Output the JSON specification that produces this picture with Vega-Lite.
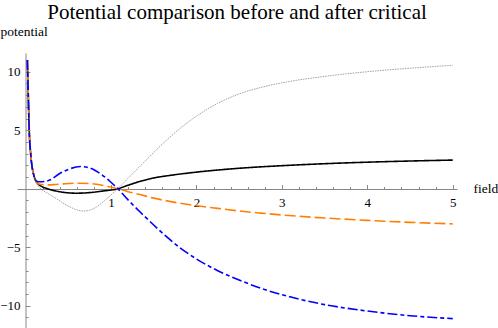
{
  "$schema": "https://vega.github.io/schema/vega-lite/v6.json",
  "width": 440,
  "height": 275,
  "autosize": "none",
  "padding": {"left": 17, "top": 53, "right": 41, "bottom": 0},
  "background": "white",
  "config": {"view": {"stroke": null}, "font": "Liberation Serif"},
  "title": {
    "text": "Potential comparison before and after critical",
    "font": "Liberation Serif",
    "fontSize": 21,
    "fontWeight": "normal",
    "color": "black",
    "anchor": "middle",
    "frame": "group",
    "offset": 1
  },
  "data": {
    "values": [
      {"s": "a", "x": 0.021, "y": 11.0}, {"s": "a", "x": 0.032, "y": 8.0}, {"s": "a", "x": 0.043, "y": 5.0}, {"s": "a", "x": 0.06, "y": 3.0}, {"s": "a", "x": 0.074, "y": 2.0}, {"s": "a", "x": 0.091, "y": 1.34}, {"s": "a", "x": 0.11, "y": 0.85},
      {"s": "a", "x": 0.13, "y": 0.55}, {"s": "a", "x": 0.17, "y": 0.28}, {"s": "a", "x": 0.25, "y": 0.02}, {"s": "a", "x": 0.33, "y": -0.15}, {"s": "a", "x": 0.45, "y": -0.31}, {"s": "a", "x": 0.6, "y": -0.38}, {"s": "a", "x": 0.75, "y": -0.33}, {"s": "a", "x": 0.9, "y": -0.2}, {"s": "a", "x": 1.08, "y": 0.0}, {"s": "a", "x": 1.2, "y": 0.3}, {"s": "a", "x": 1.35, "y": 0.65}, {"s": "a", "x": 1.5, "y": 0.92}, {"s": "a", "x": 1.7, "y": 1.15}, {"s": "a", "x": 2.0, "y": 1.42}, {"s": "a", "x": 2.25, "y": 1.6}, {"s": "a", "x": 2.5, "y": 1.75}, {"s": "a", "x": 2.75, "y": 1.87}, {"s": "a", "x": 3.0, "y": 1.97}, {"s": "a", "x": 3.5, "y": 2.14}, {"s": "a", "x": 4.0, "y": 2.27}, {"s": "a", "x": 4.5, "y": 2.37}, {"s": "a", "x": 5.0, "y": 2.45},

      {"s": "b", "x": 0.021, "y": 11.0}, {"s": "b", "x": 0.032, "y": 8.0}, {"s": "b", "x": 0.043, "y": 5.0}, {"s": "b", "x": 0.06, "y": 3.0}, {"s": "b", "x": 0.074, "y": 2.0}, {"s": "b", "x": 0.091, "y": 1.34}, {"s": "b", "x": 0.11, "y": 0.85},
      {"s": "b", "x": 0.13, "y": 0.45}, {"s": "b", "x": 0.17, "y": 0.05}, {"s": "b", "x": 0.25, "y": -0.35}, {"s": "b", "x": 0.33, "y": -0.7}, {"s": "b", "x": 0.48, "y": -1.4}, {"s": "b", "x": 0.6, "y": -1.8}, {"s": "b", "x": 0.68, "y": -1.9}, {"s": "b", "x": 0.75, "y": -1.84}, {"s": "b", "x": 0.83, "y": -1.55}, {"s": "b", "x": 0.95, "y": -0.85}, {"s": "b", "x": 1.08, "y": 0.0}, {"s": "b", "x": 1.2, "y": 0.9}, {"s": "b", "x": 1.35, "y": 2.0}, {"s": "b", "x": 1.5, "y": 3.1}, {"s": "b", "x": 1.65, "y": 4.15}, {"s": "b", "x": 1.8, "y": 5.1}, {"s": "b", "x": 2.0, "y": 6.2}, {"s": "b", "x": 2.25, "y": 7.3}, {"s": "b", "x": 2.5, "y": 8.1}, {"s": "b", "x": 2.75, "y": 8.65}, {"s": "b", "x": 3.0, "y": 9.05}, {"s": "b", "x": 3.5, "y": 9.6}, {"s": "b", "x": 4.0, "y": 10.0}, {"s": "b", "x": 4.5, "y": 10.3}, {"s": "b", "x": 5.0, "y": 10.55},

      {"s": "c", "x": 0.021, "y": 11.0}, {"s": "c", "x": 0.032, "y": 8.0}, {"s": "c", "x": 0.043, "y": 5.0}, {"s": "c", "x": 0.06, "y": 3.0}, {"s": "c", "x": 0.074, "y": 2.0}, {"s": "c", "x": 0.091, "y": 1.34}, {"s": "c", "x": 0.11, "y": 0.85},
      {"s": "c", "x": 0.13, "y": 0.5}, {"s": "c", "x": 0.17, "y": 0.38}, {"s": "c", "x": 0.25, "y": 0.33}, {"s": "c", "x": 0.33, "y": 0.35}, {"s": "c", "x": 0.45, "y": 0.42}, {"s": "c", "x": 0.6, "y": 0.47}, {"s": "c", "x": 0.75, "y": 0.44}, {"s": "c", "x": 0.83, "y": 0.38}, {"s": "c", "x": 0.99, "y": 0.15}, {"s": "c", "x": 1.08, "y": 0.0}, {"s": "c", "x": 1.2, "y": -0.25}, {"s": "c", "x": 1.35, "y": -0.52}, {"s": "c", "x": 1.5, "y": -0.8}, {"s": "c", "x": 1.7, "y": -1.1}, {"s": "c", "x": 2.0, "y": -1.45}, {"s": "c", "x": 2.25, "y": -1.68}, {"s": "c", "x": 2.5, "y": -1.9}, {"s": "c", "x": 2.75, "y": -2.08}, {"s": "c", "x": 3.0, "y": -2.24}, {"s": "c", "x": 3.5, "y": -2.5}, {"s": "c", "x": 4.0, "y": -2.7}, {"s": "c", "x": 4.5, "y": -2.87}, {"s": "c", "x": 5.0, "y": -3.0},

      {"s": "d", "x": 0.021, "y": 11.0}, {"s": "d", "x": 0.032, "y": 8.0}, {"s": "d", "x": 0.043, "y": 5.0}, {"s": "d", "x": 0.06, "y": 3.0}, {"s": "d", "x": 0.074, "y": 2.0}, {"s": "d", "x": 0.091, "y": 1.34}, {"s": "d", "x": 0.11, "y": 0.85},
      {"s": "d", "x": 0.13, "y": 0.65}, {"s": "d", "x": 0.17, "y": 0.6}, {"s": "d", "x": 0.22, "y": 0.62}, {"s": "d", "x": 0.3, "y": 0.8}, {"s": "d", "x": 0.4, "y": 1.3}, {"s": "d", "x": 0.5, "y": 1.65}, {"s": "d", "x": 0.64, "y": 1.9}, {"s": "d", "x": 0.75, "y": 1.78}, {"s": "d", "x": 0.83, "y": 1.5}, {"s": "d", "x": 0.99, "y": 0.62}, {"s": "d", "x": 1.08, "y": 0.0}, {"s": "d", "x": 1.2, "y": -0.95}, {"s": "d", "x": 1.35, "y": -2.05}, {"s": "d", "x": 1.5, "y": -3.1}, {"s": "d", "x": 1.65, "y": -4.1}, {"s": "d", "x": 1.8, "y": -5.0}, {"s": "d", "x": 2.0, "y": -6.0}, {"s": "d", "x": 2.25, "y": -7.0}, {"s": "d", "x": 2.5, "y": -7.8}, {"s": "d", "x": 2.75, "y": -8.5}, {"s": "d", "x": 3.0, "y": -9.05}, {"s": "d", "x": 3.5, "y": -9.9}, {"s": "d", "x": 4.0, "y": -10.45}, {"s": "d", "x": 4.5, "y": -10.85}, {"s": "d", "x": 5.0, "y": -11.1}
    ]
  },
  "mark": {"type": "line", "interpolate": "monotone", "clip": true},
  "encoding": {
    "x": {
      "field": "x", "type": "quantitative",
      "scale": {"domain": [-0.1, 5.05], "nice": false, "zero": false},
      "axis": {
        "orient": "bottom", "offset": -139, "grid": false,
        "values": [0.2,0.4,0.6,0.8,1,1.2,1.4,1.6,1.8,2,2.2,2.4,2.6,2.8,3,3.2,3.4,3.6,3.8,4,4.2,4.4,4.6,4.8,5],
        "labelExpr": "abs(datum.value - round(datum.value)) < 0.001 ? format(datum.value, 'd') : ''",
        "tickSize": {"condition": {"test": "abs(datum.value - round(datum.value)) < 0.001", "value": -4.5}, "value": -2.5},
        "domainColor": "#888888", "tickColor": "#888888", "domainWidth": 1, "tickWidth": 1,
        "labelFont": "Liberation Serif", "labelFontSize": 13, "labelColor": "black", "labelPadding": 12, "labelFlush": false, "labelOverlap": false,
        "title": "field", "titleFont": "Liberation Serif", "titleFontSize": 13.5, "titleFontWeight": "normal", "titleColor": "black",
        "titleAlign": "left", "titleBaseline": "alphabetic", "titleAnchor": "start", "titleX": 456, "titleY": 3
      }
    },
    "y": {
      "field": "y", "type": "quantitative",
      "scale": {"domain": [-11.9, 11.6], "nice": false, "zero": false},
      "axis": {
        "orient": "left", "offset": -8.5, "grid": false,
        "values": [-11,-10,-9,-8,-7,-6,-5,-4,-3,-2,-1,1,2,3,4,5,6,7,8,9,10,11],
        "labelExpr": "datum.value % 5 === 0 ? format(datum.value, 'd') : ''",
        "tickSize": {"condition": {"test": "datum.value % 5 === 0", "value": -4.5}, "value": -2.5},
        "domainColor": "#888888", "tickColor": "#888888", "domainWidth": 1, "tickWidth": 1,
        "labelFont": "Liberation Serif", "labelFontSize": 13, "labelColor": "black", "labelPadding": 10, "labelFlush": false, "labelOverlap": false,
        "title": "potential", "titleFont": "Liberation Serif", "titleFontSize": 13.5, "titleFontWeight": "normal", "titleColor": "black",
        "titleAngle": 0, "titleAlign": "left", "titleBaseline": "alphabetic", "titleAnchor": "start", "titleX": -25.5, "titleY": -18
      }
    },
    "color": {
      "field": "s", "type": "nominal", "legend": null,
      "scale": {"domain": ["a", "b", "c", "d"], "range": ["#000000", "#888888", "#FF8000", "#0000FF"]}
    },
    "strokeDash": {
      "field": "s", "type": "nominal", "legend": null,
      "scale": {"domain": ["a", "b", "c", "d"], "range": [[1, 0], [1.5, 1], [11, 4], [10, 3, 4, 3]]}
    },
    "strokeWidth": {
      "field": "s", "type": "nominal", "legend": null,
      "scale": {"type": "ordinal", "domain": ["a", "b", "c", "d"], "range": [1.6, 0.8, 1.6, 1.6]}
    }
  }
}
